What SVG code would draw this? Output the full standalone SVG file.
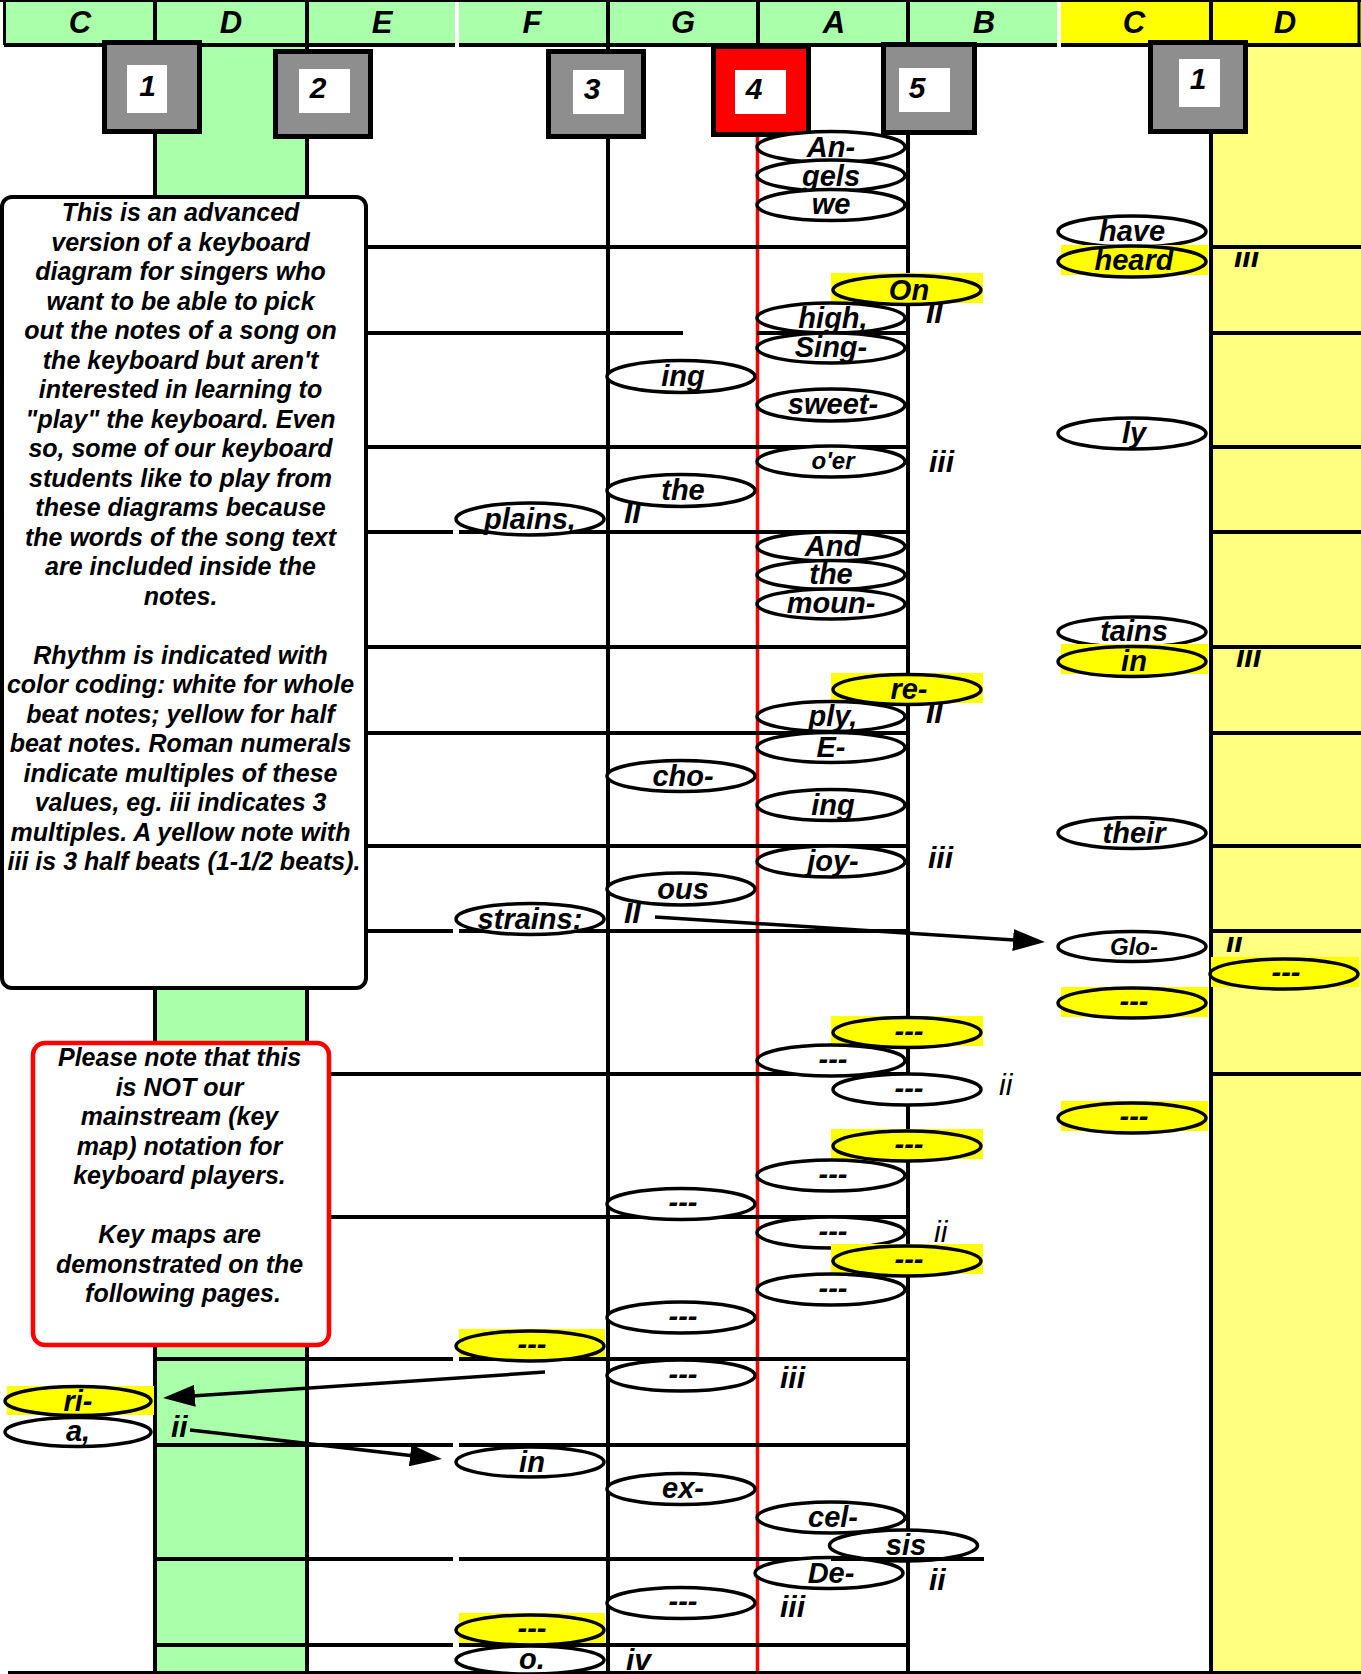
<svg xmlns="http://www.w3.org/2000/svg" width="1361" height="1674" viewBox="0 0 1361 1674">
<style>
text{font-family:"Liberation Sans",Arial,sans-serif;font-style:italic;font-weight:bold;fill:#000}
.hdr{font-size:31px;text-anchor:middle}
.num{font-size:30px;text-anchor:middle}
.nt{font-size:29px;text-anchor:middle}
.sm{font-size:24px}
.info{font-size:25px;text-anchor:middle}
.rn{font-size:30px}
.rnl{font-size:30px;font-weight:normal}
.ln{stroke:#000;stroke-width:4;fill:none}
.el{stroke:#000;stroke-width:3.5;fill:#fff}
.ely{stroke:#000;stroke-width:3.5;fill:#ffff00}
.yb{fill:#ffff00}
.box{stroke:#000;stroke-width:5;fill:#8e8e8e}
.wb{fill:#fff}
.con{stroke:#000;stroke-width:3.5;fill:none}
</style>
<defs>
<marker id="ah" markerUnits="userSpaceOnUse" markerWidth="34" markerHeight="22" refX="22" refY="11" orient="auto"><path d="M0,0 L32,11 L0,22 z" fill="#000"/></marker>
<clipPath id="c1"><rect x="1220" y="252" width="60" height="30"/></clipPath>
<clipPath id="c2"><rect x="1220" y="650" width="60" height="30"/></clipPath>
<clipPath id="c3"><rect x="1215" y="937" width="60" height="30"/></clipPath>
</defs>
<rect width="1361" height="1674" fill="#fff"/>
<rect x="155" y="45" width="152" height="1628" fill="#aaffaa"/>
<rect x="1211" y="45" width="150" height="1628" fill="#ffff80"/>
<g id="header">
<rect x="4" y="0" width="451" height="45" fill="#aaffaa"/>
<rect x="459" y="0" width="598" height="45" fill="#aaffaa"/>
<rect x="1061" y="0" width="300" height="45" fill="#ffff00"/>
<line class="ln" x1="0" y1="1" x2="1361" y2="1" style="stroke-width:2"/>
<line class="ln" x1="4" y1="45" x2="455" y2="45"/>
<line class="ln" x1="459" y1="45" x2="1057" y2="45"/>
<line class="ln" x1="1061" y1="45" x2="1361" y2="45"/>
<line class="ln" x1="4.5" y1="0" x2="4.5" y2="45" style="stroke-width:3"/>
<line class="ln" x1="1359" y1="0" x2="1359" y2="45" style="stroke-width:3"/>
<line class="ln" x1="155" y1="0" x2="155" y2="45"/>
<line class="ln" x1="307" y1="0" x2="307" y2="45"/>
<line class="ln" x1="608" y1="0" x2="608" y2="45"/>
<line class="ln" x1="758" y1="0" x2="758" y2="45"/>
<line class="ln" x1="908" y1="0" x2="908" y2="45"/>
<line class="ln" x1="1211" y1="0" x2="1211" y2="45"/>
<text class="hdr" x="80" y="33">C</text>
<text class="hdr" x="231" y="33">D</text>
<text class="hdr" x="382" y="33">E</text>
<text class="hdr" x="532" y="33">F</text>
<text class="hdr" x="683" y="33">G</text>
<text class="hdr" x="834" y="33">A</text>
<text class="hdr" x="984" y="33">B</text>
<text class="hdr" x="1134" y="33">C</text>
<text class="hdr" x="1285" y="33">D</text>
</g>
<g id="grid">
<line class="ln" x1="155" y1="45" x2="155" y2="1672"/>
<line class="ln" x1="307" y1="45" x2="307" y2="1672"/>
<line class="ln" x1="608" y1="45" x2="608" y2="1672"/>
<line class="ln" x1="908" y1="45" x2="908" y2="1672"/>
<line class="ln" x1="1211" y1="45" x2="1211" y2="1672"/>
<line x1="757.5" y1="45" x2="757.5" y2="1672" stroke="#ff0000" stroke-width="3.5"/>
<path class="ln" d="M155 247H909M1211 247H1361
M155 333H683M757 333H909M1211 333H1361
M155 447H909M1211 447H1361
M155 532H453M459 532H909M1211 532H1361
M155 647H909M1211 647H1361
M155 733H909M1211 733H1361
M155 846H909M1211 846H1361
M155 931H453M459 931H909M1211 931H1361
M155 1074H909M1211 1074H1361
M155 1217H909
M155 1359H453M459 1359H909
M155 1445H453M459 1445H909
M155 1559H453M459 1559H831
M155 1645H453M459 1645H909"/>
<line class="ln" x1="8" y1="1672.5" x2="1361" y2="1672.5" style="stroke-width:3"/>
</g>
<g id="box1"><rect class="box" x="104.5" y="42.5" width="95" height="89"/><rect class="wb" x="127" y="65" width="40" height="48"/><text class="num" x="147.5" y="96">1</text></g>
<g id="box2"><rect class="box" x="275.5" y="51.5" width="95" height="85"/><rect class="wb" x="299" y="69" width="51" height="44"/><text class="num" x="318" y="98">2</text></g>
<g id="box3"><rect class="box" x="548.5" y="51.5" width="95" height="85"/><rect class="wb" x="573" y="70" width="51" height="44"/><text class="num" x="592" y="99">3</text></g>
<g id="box4"><rect class="box" x="713.5" y="46.5" width="95" height="88" style="fill:#ff0000"/><rect class="wb" x="735" y="70" width="51" height="44"/><text class="num" x="754" y="99">4</text></g>
<g id="box5"><rect class="box" x="883.5" y="44.5" width="91" height="88"/><rect class="wb" x="899" y="68" width="51" height="44"/><text class="num" x="917" y="98">5</text></g>
<g id="box1r"><rect class="box" x="1150.5" y="42.5" width="95" height="89"/><rect class="wb" x="1179" y="59" width="41" height="48"/><text class="num" x="1198" y="89">1</text></g>
<g id="numerals">
<text class="rn" x="624" y="523">II</text>
<text class="rn" x="926" y="323">II</text>
<text class="rn" x="1234" y="267" clip-path="url(#c1)">III</text>
<text class="rn" x="929" y="472">iii</text>
<text class="rn" x="926" y="723">II</text>
<text class="rn" x="1236" y="667" clip-path="url(#c2)">III</text>
<text class="rn" x="928" y="868">iii</text>
<text class="rn" x="624" y="923">II</text>
<text class="rn" x="1226" y="952" clip-path="url(#c3)">II</text>
<text class="rnl" x="999" y="1095">ii</text>
<text class="rnl" x="934" y="1242">ii</text>
<text class="rn" x="780" y="1388">iii</text>
<text class="rn" x="171" y="1437">ii</text>
<text class="rn" x="929" y="1590">ii</text>
<text class="rn" x="780" y="1617">iii</text>
<text class="rn" x="626" y="1670">iv</text>
</g>
<g id="n-an"><ellipse class="el" cx="831" cy="147" rx="74" ry="15.5"/><text class="nt" x="831" y="157">An-</text></g>
<g id="n-gels"><ellipse class="el" cx="831" cy="175.5" rx="74" ry="15.5"/><text class="nt" x="831" y="185.5">gels</text></g>
<g id="n-we"><ellipse class="el" cx="831" cy="205" rx="74" ry="15.5"/><text class="nt" x="831" y="214">we</text></g>
<g id="n-have"><ellipse class="el" cx="1132" cy="231.5" rx="74" ry="15.5"/><text class="nt" x="1132" y="241">have</text></g>
<g id="n-heard"><rect class="yb" x="1061" y="245" width="147" height="30"/><ellipse class="ely" cx="1132" cy="261.5" rx="74" ry="15.5"/><text class="nt" x="1134" y="270">heard</text></g>
<g id="n-on"><rect class="yb" x="831" y="273" width="152" height="30"/><ellipse class="ely" cx="907" cy="290" rx="74" ry="14.5"/><text class="nt" x="909" y="300">On</text></g>
<g id="n-high"><ellipse class="el" cx="831" cy="318" rx="74" ry="15"/><text class="nt" x="833" y="328">high,</text></g>
<g id="n-sing"><ellipse class="el" cx="831" cy="348" rx="74" ry="15"/><text class="nt" x="831" y="357">Sing-</text></g>
<g id="n-ing1"><ellipse class="el" cx="681" cy="376.5" rx="74" ry="16"/><text class="nt" x="683" y="386">ing</text></g>
<g id="n-sweet"><ellipse class="el" cx="831" cy="405" rx="74" ry="16"/><text class="nt" x="833" y="414">sweet-</text></g>
<g id="n-ly"><ellipse class="el" cx="1132" cy="433.5" rx="74" ry="15.5"/><text class="nt" x="1134" y="443">ly</text></g>
<g id="n-oer"><ellipse class="el" cx="831" cy="461.5" rx="74" ry="15.5"/><text class="nt sm" x="833" y="469">o'er</text></g>
<g id="n-the1"><ellipse class="el" cx="681" cy="490.5" rx="74" ry="16"/><text class="nt" x="683" y="500">the</text></g>
<g id="n-plains"><ellipse class="el" cx="530" cy="519" rx="74" ry="16"/><text class="nt" x="530" y="529">plains,</text></g>
<g id="n-and"><ellipse class="el" cx="831" cy="546.5" rx="74" ry="14.5"/><text class="nt" x="833" y="556">And</text></g>
<g id="n-the2"><ellipse class="el" cx="831" cy="575" rx="74" ry="14.5"/><text class="nt" x="831" y="584">the</text></g>
<g id="n-moun"><ellipse class="el" cx="831" cy="604" rx="74" ry="15"/><text class="nt" x="831" y="613">moun-</text></g>
<g id="n-tains"><ellipse class="el" cx="1132" cy="632" rx="74" ry="15"/><text class="nt" x="1134" y="641">tains</text></g>
<g id="n-in1"><rect class="yb" x="1061" y="644" width="147" height="30"/><ellipse class="ely" cx="1132" cy="661.5" rx="74" ry="15"/><text class="nt" x="1134" y="671">in</text></g>
<g id="n-re"><rect class="yb" x="831" y="673" width="152" height="30"/><ellipse class="ely" cx="907" cy="689.5" rx="74" ry="15"/><text class="nt" x="909" y="699">re-</text></g>
<g id="n-ply"><ellipse class="el" cx="831" cy="716.5" rx="74" ry="15"/><text class="nt" x="833" y="726">ply,</text></g>
<g id="n-e"><ellipse class="el" cx="831" cy="747.5" rx="74" ry="15"/><text class="nt" x="831" y="757">E-</text></g>
<g id="n-cho"><ellipse class="el" cx="681" cy="776" rx="74" ry="15.5"/><text class="nt" x="683" y="786">cho-</text></g>
<g id="n-ing2"><ellipse class="el" cx="831" cy="805" rx="74" ry="15.5"/><text class="nt" x="833" y="815">ing</text></g>
<g id="n-their"><ellipse class="el" cx="1132" cy="833" rx="74" ry="15.5"/><text class="nt" x="1134" y="843">their</text></g>
<g id="n-joy"><ellipse class="el" cx="831" cy="861.5" rx="74" ry="15.5"/><text class="nt" x="833" y="871">joy-</text></g>
<g id="n-ous"><ellipse class="el" cx="681" cy="889" rx="74" ry="16"/><text class="nt" x="683" y="899">ous</text></g>
<g id="n-strains"><ellipse class="el" cx="530" cy="919" rx="74" ry="15.5"/><text class="nt" x="530" y="929">strains:</text></g>
<g id="n-glo"><ellipse class="el" cx="1132" cy="946.5" rx="74" ry="15"/><text class="nt sm" x="1134" y="955">Glo-</text></g>
<g id="n-dd"><rect class="yb" x="1211" y="957" width="148" height="30"/><ellipse class="ely" cx="1284" cy="974" rx="74" ry="15"/><text class="nt" x="1286" y="982">---</text></g>
<g id="n-c1"><rect class="yb" x="1061" y="987" width="147" height="30"/><ellipse class="ely" cx="1132" cy="1003" rx="74" ry="15"/><text class="nt" x="1134" y="1011">---</text></g>
<g id="n-y1"><rect class="yb" x="831" y="1016" width="152" height="30"/><ellipse class="ely" cx="907" cy="1032.5" rx="74" ry="15"/><text class="nt" x="909" y="1041">---</text></g>
<g id="n-d1"><ellipse class="el" cx="831" cy="1060.5" rx="74" ry="15.5"/><text class="nt" x="833" y="1069">---</text></g>
<g id="n-w2"><ellipse class="el" cx="907" cy="1089.5" rx="74" ry="15.5"/><text class="nt" x="909" y="1098">---</text></g>
<g id="n-c2"><rect class="yb" x="1061" y="1101" width="147" height="30"/><ellipse class="ely" cx="1132" cy="1118" rx="74" ry="15"/><text class="nt" x="1134" y="1126">---</text></g>
<g id="n-y3"><rect class="yb" x="831" y="1129" width="152" height="30"/><ellipse class="ely" cx="907" cy="1146" rx="74" ry="15"/><text class="nt" x="909" y="1154">---</text></g>
<g id="n-d3"><ellipse class="el" cx="831" cy="1175.5" rx="74" ry="15.5"/><text class="nt" x="833" y="1184">---</text></g>
<g id="n-g1"><ellipse class="el" cx="681" cy="1204" rx="74" ry="15.5"/><text class="nt" x="683" y="1212">---</text></g>
<g id="n-d5"><ellipse class="el" cx="831" cy="1232.5" rx="74" ry="15.5"/><text class="nt" x="833" y="1241">---</text></g>
<g id="n-y4"><rect class="yb" x="831" y="1244" width="152" height="30"/><ellipse class="ely" cx="907" cy="1261" rx="74" ry="15"/><text class="nt" x="909" y="1269">---</text></g>
<g id="n-d7"><ellipse class="el" cx="831" cy="1289.5" rx="74" ry="15.5"/><text class="nt" x="833" y="1298">---</text></g>
<g id="n-g2"><ellipse class="el" cx="681" cy="1317.5" rx="74" ry="15.5"/><text class="nt" x="683" y="1326">---</text></g>
<g id="n-f1"><rect class="yb" x="459" y="1329" width="146" height="28"/><ellipse class="ely" cx="530" cy="1346" rx="74" ry="15"/><text class="nt" x="532" y="1354">---</text></g>
<g id="n-g3"><ellipse class="el" cx="681" cy="1375.5" rx="74" ry="15.5"/><text class="nt" x="683" y="1384">---</text></g>
<g id="n-ri"><rect class="yb" x="7" y="1386" width="147" height="29"/><ellipse class="ely" cx="78" cy="1401" rx="73" ry="14.5"/><text class="nt" x="78" y="1411">ri-</text></g>
<g id="n-a"><ellipse class="el" cx="78" cy="1432" rx="73" ry="14.5"/><text class="nt" x="78" y="1441">a,</text></g>
<g id="n-in2"><ellipse class="el" cx="530" cy="1462" rx="74" ry="15"/><text class="nt" x="532" y="1472">in</text></g>
<g id="n-ex"><ellipse class="el" cx="681" cy="1489" rx="74" ry="15.5"/><text class="nt" x="683" y="1498">ex-</text></g>
<g id="n-cel"><ellipse class="el" cx="831" cy="1517.5" rx="74" ry="15.5"/><text class="nt" x="833" y="1527">cel-</text></g>
<g id="n-sis"><ellipse class="el" cx="903.5" cy="1545.5" rx="74" ry="15.5"/><text class="nt" x="906" y="1555">sis</text></g>
<g id="n-de"><ellipse class="el" cx="829" cy="1573" rx="74" ry="15.5"/><text class="nt" x="831" y="1583">De-</text></g>
<g id="n-g4"><ellipse class="el" cx="681" cy="1603" rx="74" ry="15.5"/><text class="nt" x="683" y="1611">---</text></g>
<g id="n-f2"><rect class="yb" x="459" y="1613" width="146" height="30"/><ellipse class="ely" cx="530" cy="1630" rx="74" ry="15"/><text class="nt" x="532" y="1638">---</text></g>
<g id="n-o"><ellipse class="el" cx="530" cy="1660" rx="74" ry="14"/><text class="nt" x="532" y="1669">o.</text></g>
<line class="ln" x1="831" y1="1559" x2="984" y2="1559"/>
<g id="info1">
<rect x="2" y="197" width="364" height="791" rx="10" fill="#fff" stroke="#000" stroke-width="4"/>
<text class="info">
<tspan x="184" y="221">This is an advanced</tspan>
<tspan x="184" y="250.5">version of a keyboard</tspan>
<tspan x="184" y="280">diagram for singers who</tspan>
<tspan x="184" y="309.5">want to be able to pick</tspan>
<tspan x="184" y="339">out the notes of a song on</tspan>
<tspan x="184" y="368.5">the keyboard but aren't</tspan>
<tspan x="184" y="398">interested in learning to</tspan>
<tspan x="184" y="427.5">"play" the keyboard. Even</tspan>
<tspan x="184" y="457">so, some of our keyboard</tspan>
<tspan x="184" y="486.5">students like to play from</tspan>
<tspan x="184" y="516">these diagrams because</tspan>
<tspan x="184" y="545.5">the words of the song text</tspan>
<tspan x="184" y="575">are included inside the</tspan>
<tspan x="184" y="604.5">notes.</tspan>
<tspan x="184" y="663.5">Rhythm is indicated with</tspan>
<tspan x="184" y="693">color coding: white for whole</tspan>
<tspan x="184" y="722.5">beat notes; yellow for half</tspan>
<tspan x="184" y="752">beat notes. Roman numerals</tspan>
<tspan x="184" y="781.5">indicate multiples of these</tspan>
<tspan x="184" y="811">values, eg. iii indicates 3</tspan>
<tspan x="184" y="840.5">multiples. A yellow note with</tspan>
<tspan x="184" y="870">iii is 3 half beats (1-1/2 beats).</tspan>
</text>
</g>
<g id="info2">
<rect x="33" y="1043" width="296" height="302" rx="12" fill="#fff" stroke="#ff0000" stroke-width="4.5"/>
<text class="info">
<tspan x="183" y="1066">Please note that this</tspan>
<tspan x="183" y="1095.5">is NOT our</tspan>
<tspan x="183" y="1125">mainstream (key</tspan>
<tspan x="183" y="1154.5">map) notation for</tspan>
<tspan x="183" y="1184">keyboard players.</tspan>
<tspan x="183" y="1243">Key maps are</tspan>
<tspan x="183" y="1272.5">demonstrated on the</tspan>
<tspan x="183" y="1302">following pages.</tspan>
</text>
</g>
<g id="connectors">
<line class="con" x1="655" y1="917" x2="1035" y2="941.4" marker-end="url(#ah)"/>
<line class="con" x1="545" y1="1372" x2="173" y2="1397.3" marker-end="url(#ah)"/>
<line class="con" x1="190" y1="1430" x2="432" y2="1457.9" marker-end="url(#ah)"/>
</g>
</svg>
